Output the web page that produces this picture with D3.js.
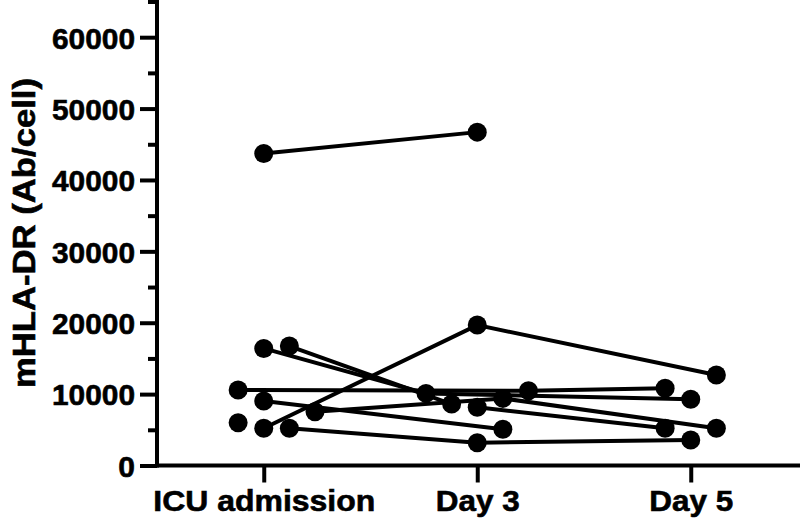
<!DOCTYPE html>
<html>
<head>
<meta charset="utf-8">
<script src="https://cdn.jsdelivr.net/npm/d3@7"></script>
<style>
  html, body { margin: 0; padding: 0; background: #fff; }
  svg { display: block; }
  text { font-family: "Liberation Sans", Arial, sans-serif; font-weight: bold; fill: #000; stroke: #000; stroke-width: 0.6px; }
</style>
</head>
<body>
<svg id="chart" width="800" height="526"></svg>
<script>
// ---- data ----
const timepoints = ["ICU admission", "Day 3", "Day 5"];
const patients = ["P1", "P2", "P3", "P4", "P5", "P6", "P7", "P8", "P9", "P10"];
const icuValues  = [43700, 5210, 16400, 16730, 10570, 9030, 7530, 5210, 6000, null];
const day3Values = [46700, 19670, 10100, 8610, 10480, 5070, 9400, 3190, null, 8150];
const day5Values = [null, 12670, 9270, null, 10810, null, 5210, 3570, null, 5210];
// horizontal spread slot of each point inside its timepoint column (scatter dodge)
const icuSlots  = [0, 0, 0, 1, -1, 0, 2, 1, -1, null];
const day3Slots = [0, 0, -2, -1, 2, 1, 1, 0, null, 0];
const day5Slots = [null, 1, 0, null, -1, null, 1, 0, null, -1];
const yMajorTicks = [0, 10000, 20000, 30000, 40000, 50000, 60000];
const yMinorTicks = [5000, 15000, 25000, 35000, 45000, 55000, 65000];
const yTitle = "mHLA-DR (Ab/cell)";

// ---- build ----
const valuesByTime = [icuValues, day3Values, day5Values];
const slotsByTime = [icuSlots, day3Slots, day5Slots];
const series = patients.map((p, i) => ({
  id: p,
  points: timepoints.map((t, k) => ({ t, v: valuesByTime[k][i], s: slotsByTime[k][i] }))
                    .filter(d => d.v != null)
}));

const svg = d3.select("#chart");
const axisX0 = 157, axisY0 = 465.5;

const y = d3.scaleLinear().domain([0, 65000]).range([axisY0, 1.5]);
const x = d3.scalePoint().domain(timepoints).range([axisX0, 797.5]).padding(0.5);
const dodge = d3.scaleLinear().domain([0, 1]).range([0, x.step() * 0.12]);
const px = d => x(d.t) + dodge(d.s);

// y axis minor ticks
const gMinor = svg.append("g").attr("transform", `translate(${axisX0},0)`)
  .call(d3.axisLeft(y).tickValues(yMinorTicks).tickSize(9).tickSizeOuter(0).tickFormat(""));
// y axis major
const gY = svg.append("g").attr("transform", `translate(${axisX0},0)`)
  .call(d3.axisLeft(y).tickValues(yMajorTicks).tickSize(17).tickSizeOuter(0).tickPadding(5).tickFormat(d3.format("d")));
gMinor.select(".domain").remove();
gY.select(".domain").attr("d", `M0,${axisY0}V0`);
// x axis
const gX = svg.append("g").attr("transform", `translate(0,${axisY0})`)
  .call(d3.axisBottom(x).tickSize(17).tickSizeOuter(0).tickPadding(6));
gX.select(".domain").attr("d", `M${axisX0},0H800`);

svg.selectAll(".domain").attr("stroke", "#000").attr("stroke-width", 4).attr("stroke-linecap", "square");
svg.selectAll(".tick line").attr("stroke", "#000").attr("stroke-width", 4);
gY.selectAll(".tick text").attr("font-size", 30).attr("font-family", null).attr("dy", "0.36em")
  .attr("textLength", 83).attr("lengthAdjust", "spacingAndGlyphs");
gY.selectAll(".tick text").filter(d => d === 0).attr("textLength", null);
gX.selectAll(".tick text").attr("font-size", 30).attr("font-family", null).attr("dy", "0.74em")
  .attr("textLength", d => d === "ICU admission" ? 222 : 84).attr("lengthAdjust", "spacingAndGlyphs");

// y title
svg.append("text")
  .attr("transform", `translate(35,233) rotate(-90)`)
  .attr("text-anchor", "middle")
  .attr("font-size", 31)
  .attr("textLength", 310).attr("lengthAdjust", "spacingAndGlyphs")
  .text(yTitle);

// lines
const line = d3.line().x(px).y(d => y(d.v));
const gData = svg.append("g");
gData.selectAll("path.patient").data(series.filter(s => s.points.length > 1)).join("path")
  .attr("class", "patient")
  .attr("d", s => line(s.points))
  .attr("fill", "none").attr("stroke", "#000").attr("stroke-width", 4);
// dots
gData.selectAll("circle").data(series.flatMap(s => s.points)).join("circle")
  .attr("cx", px).attr("cy", d => y(d.v)).attr("r", 9.5).attr("fill", "#000");
</script>
</body>
</html>
